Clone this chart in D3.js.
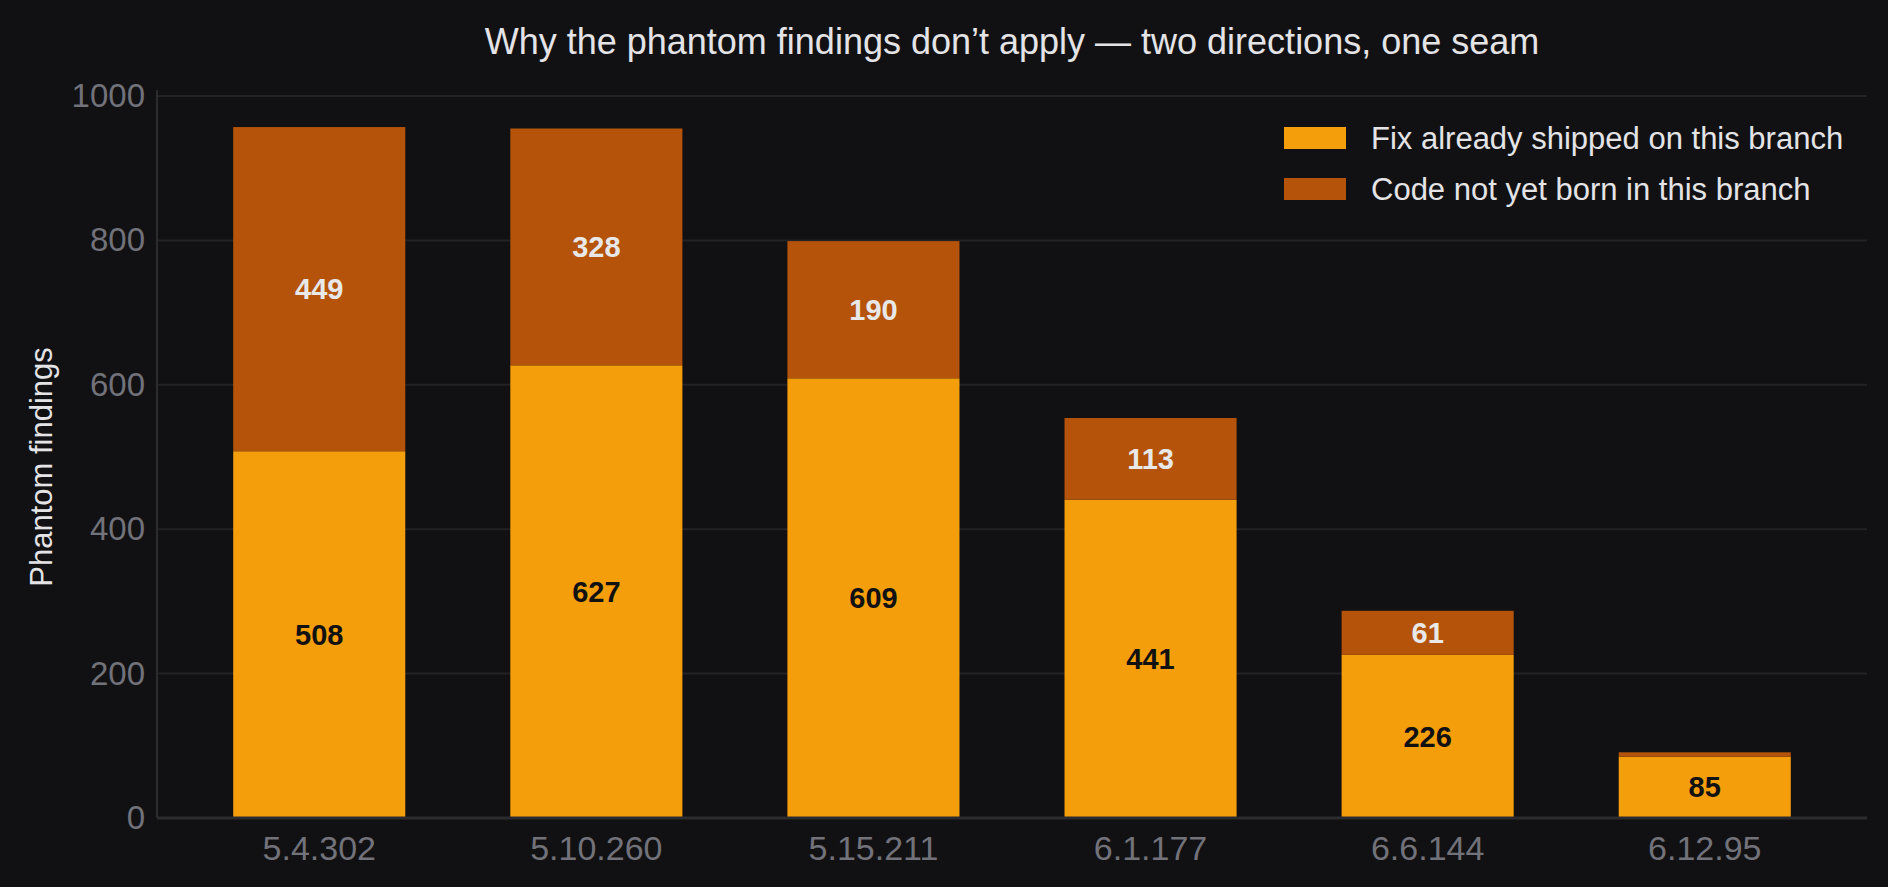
<!DOCTYPE html>
<html lang="en">
<head>
<meta charset="utf-8">
<title>Phantom findings</title>
<script src="https://d3js.org/d3.v7.min.js"></script>
<style>
  html, body { margin: 0; padding: 0; background: #111113; }
  svg { display: block; font-family: "Liberation Sans", Arial, Helvetica, sans-serif; }
</style>
</head>
<body>
<script>
// data
var branches = ["5.4.302", "5.10.260", "5.15.211", "6.1.177", "6.6.144", "6.12.95"];
var fixShipped = [508, 627, 609, 441, 226, 85];
var notBorn = [449, 328, 190, 113, 61, 6];
var seriesNames = ["Fix already shipped on this branch", "Code not yet born in this branch"];
var yTicks = [0, 200, 400, 600, 800, 1000];

var W = 1888, H = 887;
var margin = {top: 96, right: 21, bottom: 69, left: 157};
var colors = ["#f59e0b", "#b45309"];

var svg = d3.select("body").append("svg")
  .attr("width", W)
  .attr("height", H);

svg.append("rect").attr("width", W).attr("height", H).attr("fill", "#111113");

var x = d3.scaleBand()
  .domain(branches)
  .range([margin.left, W - margin.right])
  .paddingInner(0.379)
  .paddingOuter(0.275);

var y = d3.scaleLinear()
  .domain([0, 1000])
  .range([H - margin.bottom, margin.top]);

// gridlines
svg.append("g").selectAll("line")
  .data(yTicks.filter(function(d) { return d > 0; }))
  .enter().append("line")
  .attr("x1", margin.left).attr("x2", W - margin.right)
  .attr("y1", function(d) { return y(d); })
  .attr("y2", function(d) { return y(d); })
  .attr("stroke", "#232326")
  .attr("stroke-width", 2);

// y axis
var yAxis = d3.axisLeft(y).tickValues(yTicks).tickFormat(d3.format("d")).tickSize(0).tickPadding(12);
var yg = svg.append("g")
  .attr("transform", "translate(" + margin.left + ",0)")
  .call(yAxis);
yg.select(".domain").attr("stroke", "#2c2c30").attr("stroke-width", 2)
  .attr("d", "M0," + (margin.top - 6) + "V" + y(0));
yg.selectAll("text").attr("fill", "#72727a").attr("font-size", 33);

// data stack
var rows = branches.map(function(b, i) {
  return {branch: b, fix: fixShipped[i], born: notBorn[i]};
});
var stack = d3.stack().keys(["fix", "born"])(rows);

var layers = svg.append("g").selectAll("g")
  .data(stack)
  .enter().append("g")
  .attr("fill", function(d, i) { return colors[i]; });

layers.selectAll("rect")
  .data(function(d) { return d; })
  .enter().append("rect")
  .attr("x", function(d) { return x(d.data.branch); })
  .attr("width", x.bandwidth())
  .attr("y", function(d) { return y(d[1]); })
  .attr("height", function(d) { return y(d[0]) - y(d[1]); });

// value labels
stack.forEach(function(layer, li) {
  svg.append("g").selectAll("text")
    .data(layer.filter(function(d) { return y(d[0]) - y(d[1]) > 24; }))
    .enter().append("text")
    .attr("x", function(d) { return x(d.data.branch) + x.bandwidth() / 2; })
    .attr("y", function(d) { return (y(d[0]) + y(d[1])) / 2; })
    .attr("dy", "0.35em")
    .attr("text-anchor", "middle")
    .attr("font-size", 29)
    .attr("font-weight", "bold")
    .attr("fill", li === 0 ? "#111111" : "#e8e8e8")
    .text(function(d) { return d[1] - d[0]; });
});

// x axis
var xAxis = d3.axisBottom(x).tickSize(0).tickPadding(18);
var xg = svg.append("g")
  .attr("transform", "translate(0," + y(0) + ")")
  .call(xAxis);
xg.select(".domain").attr("stroke", "#2c2c30").attr("stroke-width", 3)
  .attr("d", "M" + margin.left + ",0H" + (W - margin.right));
xg.selectAll("text").attr("fill", "#72727a").attr("font-size", 34);

// y label
svg.append("text")
  .attr("transform", "translate(52,467) rotate(-90)")
  .attr("text-anchor", "middle")
  .attr("font-size", 31)
  .attr("fill", "#e4e4e7")
  .text("Phantom findings");

// title
svg.append("text")
  .attr("x", (margin.left + W - margin.right) / 2)
  .attr("y", 54)
  .attr("text-anchor", "middle")
  .attr("font-size", 36)
  .attr("fill", "#e4e4e7")
  .text("Why the phantom findings don\u2019t apply \u2014 two directions, one seam");

// legend
var legend = svg.append("g").selectAll("g")
  .data(seriesNames)
  .enter().append("g")
  .attr("transform", function(d, i) { return "translate(1284," + (127 + i * 51) + ")"; });
legend.append("rect")
  .attr("width", 62).attr("height", 22)
  .attr("fill", function(d, i) { return colors[i]; });
legend.append("text")
  .attr("x", 87).attr("y", 22)
  .attr("font-size", 31)
  .attr("fill", "#e4e4e7")
  .text(function(d) { return d; });
</script>
</body>
</html>
